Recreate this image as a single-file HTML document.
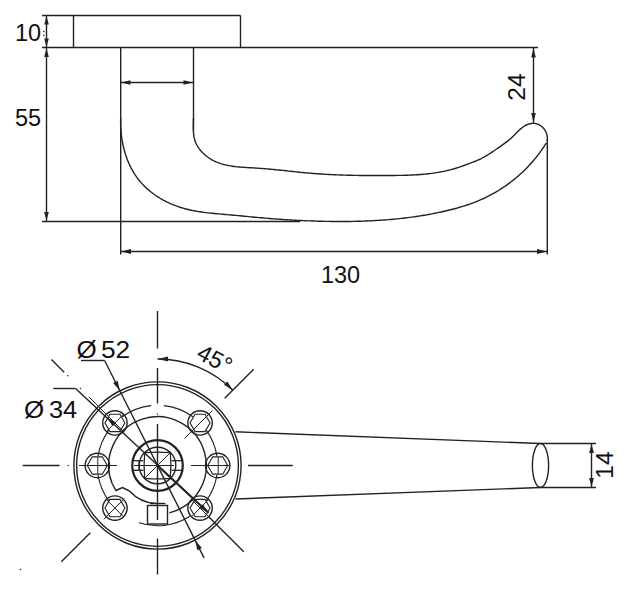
<!DOCTYPE html>
<html><head><meta charset="utf-8"><style>
html,body{margin:0;padding:0;background:#fff;overflow:hidden;}
svg{display:block;}
text{font-family:"Liberation Sans",sans-serif;fill:#111;stroke:none;}
</style></head><body>
<svg width="637" height="602" viewBox="0 0 637 602" stroke="#222222" fill="none">
<rect x="0" y="0" width="637" height="602" fill="#fff" stroke="none"/>
<line x1="42.00" y1="15.50" x2="240.50" y2="15.50" stroke-width="1.4"/>
<line x1="240.50" y1="15.50" x2="240.50" y2="47.50" stroke-width="1.4"/>
<line x1="73.50" y1="15.50" x2="73.50" y2="47.50" stroke-width="1.4"/>
<line x1="42.00" y1="47.50" x2="538.00" y2="47.50" stroke-width="1.4"/>
<line x1="46.50" y1="15.50" x2="46.50" y2="221.50" stroke-width="1.4"/>
<path d="M46.50,16.00 L48.80,24.50 L44.20,24.50 Z" fill="#222222" stroke="none"/>
<path d="M46.50,47.00 L44.20,38.50 L48.80,38.50 Z" fill="#222222" stroke="none"/>
<path d="M46.50,48.00 L48.80,57.00 L44.20,57.00 Z" fill="#222222" stroke="none"/>
<path d="M46.50,221.00 L44.20,212.00 L48.80,212.00 Z" fill="#222222" stroke="none"/>
<text x="15" y="40.5" font-size="23.5" text-anchor="start">10</text>
<circle cx="43.80" cy="31.50" r="0.8" fill="#222222" stroke="none"/>
<circle cx="43.80" cy="35.50" r="0.8" fill="#222222" stroke="none"/>
<text x="15" y="126" font-size="23.5" text-anchor="start">55</text>
<line x1="120.70" y1="47.50" x2="120.70" y2="254.50" stroke-width="1.4"/>
<line x1="193.50" y1="47.50" x2="193.50" y2="130.00" stroke-width="1.4"/>
<line x1="120.50" y1="82.50" x2="193.50" y2="82.50" stroke-width="1.4"/>
<path d="M121.00,82.50 L130.50,80.20 L130.50,84.80 Z" fill="#222222" stroke="none"/>
<path d="M193.00,82.50 L183.50,84.80 L183.50,80.20 Z" fill="#222222" stroke="none"/>
<path d="M120.70,118.01 L120.65,120.07 L120.63,122.15 L120.65,124.24 L120.71,126.35 L120.81,128.46 L120.96,130.59 L121.14,132.72 L121.37,134.85 L121.64,136.99 L121.95,139.12 L122.30,141.26 L122.70,143.38 L123.14,145.51 L123.63,147.62 L124.16,149.73 L124.73,151.82 L125.36,153.89 L126.02,155.95 L126.74,157.99 L127.50,160.01 L128.31,162.00 L129.16,163.97 L130.07,165.91 L131.02,167.83 L132.02,169.71 L133.08,171.55 L134.18,173.37 L135.33,175.14 L136.53,176.87 L137.78,178.56 L139.08,180.22 L140.43,181.83 L141.82,183.40 L143.25,184.93 L144.73,186.42 L146.24,187.87 L147.80,189.28 L149.39,190.65 L151.02,191.98 L152.69,193.26 L154.39,194.51 L156.12,195.71 L157.88,196.87 L159.67,198.00 L161.49,199.07 L163.33,200.11 L165.20,201.10 L167.10,202.06 L169.01,202.97 L170.95,203.84 L172.91,204.66 L174.88,205.44 L176.87,206.18 L178.88,206.88 L180.90,207.54 L182.93,208.15 L184.97,208.72 L187.03,209.25 L189.09,209.74 L191.17,210.20 L193.25,210.63 L195.34,211.02 L197.44,211.39 L199.55,211.73 L201.66,212.04 L203.78,212.33 L205.90,212.60 L208.03,212.86 L210.16,213.09 L212.30,213.32 L214.43,213.53 L216.57,213.73 L218.71,213.92 L220.85,214.10 L222.99,214.29 L225.13,214.47 L227.27,214.65 L229.40,214.83 L231.54,215.02 L233.66,215.21 L235.79,215.41 L237.92,215.60 L240.04,215.81 L242.16,216.01 L244.28,216.21 L246.40,216.42 L248.51,216.62 L250.63,216.83 L252.74,217.03 L254.85,217.23 L256.97,217.42 L259.08,217.61 L261.20,217.80 L263.31,217.99 L265.42,218.16 L267.54,218.34 L269.65,218.51 L271.76,218.68 L273.88,218.84 L275.99,219.00 L278.10,219.15 L280.22,219.30 L282.33,219.45 L284.45,219.59 L286.56,219.73 L288.68,219.86 L290.79,219.99 L292.91,220.11 L295.02,220.23 L297.14,220.34 L299.26,220.45 L301.37,220.55 L303.49,220.65 L305.61,220.74 L307.73,220.83 L309.85,220.91 L311.97,220.99 L314.09,221.06 L316.21,221.13 L318.33,221.19 L320.45,221.25 L322.57,221.30 L324.70,221.35 L326.82,221.39 L328.95,221.42 L331.07,221.45 L333.20,221.48 L335.33,221.49 L337.45,221.51 L339.58,221.51 L341.71,221.51 L343.84,221.50 L345.97,221.49 L348.10,221.47 L350.23,221.44 L352.36,221.41 L354.49,221.37 L356.62,221.32 L358.75,221.27 L360.89,221.21 L363.02,221.14 L365.15,221.06 L367.28,220.97 L369.41,220.88 L371.53,220.78 L373.66,220.67 L375.79,220.55 L377.92,220.42 L380.05,220.29 L382.17,220.14 L384.30,219.99 L386.42,219.83 L388.55,219.65 L390.67,219.47 L392.79,219.28 L394.91,219.08 L397.03,218.87 L399.15,218.65 L401.27,218.42 L403.38,218.18 L405.50,217.93 L407.61,217.67 L409.72,217.40 L411.83,217.12 L413.94,216.82 L416.04,216.52 L418.15,216.20 L420.25,215.88 L422.35,215.54 L424.45,215.19 L426.54,214.83 L428.64,214.46 L430.73,214.07 L432.82,213.68 L434.90,213.27 L436.99,212.84 L439.07,212.41 L441.15,211.96 L443.23,211.50 L445.30,211.03 L447.37,210.55 L449.44,210.04 L451.51,209.53 L453.56,209.00 L455.62,208.45 L457.67,207.88 L459.71,207.29 L461.74,206.69 L463.77,206.06 L465.79,205.41 L467.80,204.75 L469.81,204.05 L471.80,203.34 L473.79,202.60 L475.76,201.83 L477.73,201.04 L479.68,200.22 L481.62,199.38 L483.55,198.50 L485.47,197.60 L487.37,196.67 L489.26,195.71 L491.14,194.72 L493.00,193.70 L494.85,192.65 L496.68,191.58 L498.50,190.48 L500.31,189.35 L502.09,188.20 L503.86,187.02 L505.62,185.81 L507.35,184.58 L509.07,183.32 L510.78,182.04 L512.46,180.74 L514.12,179.41 L515.77,178.05 L517.40,176.67 L519.00,175.27 L520.59,173.85 L522.16,172.40 L523.70,170.93 L525.23,169.44 L526.73,167.93 L528.21,166.40 L529.67,164.84 L531.10,163.27 L532.51,161.67 L533.90,160.06 L535.27,158.42 L536.61,156.77 L537.93,155.09 L539.22,153.40 L540.48,151.69 L541.72,149.96 L542.94,148.21 L544.13,146.45 L545.29,144.67 L546.42,142.87" fill="none" stroke-width="1.4"/>
<path d="M193.42,118.00 L193.42,119.66 L193.40,121.35 L193.37,123.06 L193.33,124.79 L193.31,126.53 L193.31,128.27 L193.34,130.02 L193.41,131.77 L193.54,133.50 L193.73,135.22 L194.01,136.93 L194.37,138.61 L194.83,140.26 L195.41,141.88 L196.09,143.46 L196.86,145.01 L197.73,146.51 L198.69,147.97 L199.72,149.38 L200.83,150.75 L202.00,152.06 L203.24,153.31 L204.52,154.51 L205.85,155.65 L207.22,156.73 L208.63,157.74 L210.06,158.68 L211.52,159.56 L213.00,160.37 L214.50,161.12 L216.03,161.82 L217.58,162.46 L219.15,163.05 L220.73,163.59 L222.34,164.08 L223.96,164.53 L225.60,164.94 L227.26,165.31 L228.92,165.64 L230.61,165.93 L232.30,166.20 L234.00,166.44 L235.71,166.65 L237.43,166.83 L239.16,167.00 L240.90,167.15 L242.64,167.28 L244.38,167.40 L246.13,167.51 L247.88,167.61 L249.63,167.71 L251.38,167.81 L253.13,167.90 L254.88,168.00 L256.63,168.10 L258.37,168.21 L260.10,168.33 L261.84,168.46 L263.57,168.59 L265.29,168.73 L267.01,168.87 L268.73,169.03 L270.45,169.18 L272.16,169.34 L273.87,169.51 L275.58,169.68 L277.29,169.85 L278.99,170.02 L280.69,170.20 L282.39,170.38 L284.09,170.56 L285.79,170.74 L287.49,170.92 L289.18,171.10 L290.88,171.29 L292.57,171.47 L294.27,171.65 L295.96,171.83 L297.66,172.00 L299.35,172.18 L301.05,172.35 L302.74,172.52 L304.44,172.68 L306.14,172.84 L307.83,173.00 L309.53,173.15 L311.24,173.29 L312.94,173.43 L314.64,173.56 L316.35,173.69 L318.06,173.81 L319.77,173.93 L321.48,174.05 L323.19,174.15 L324.90,174.26 L326.62,174.35 L328.33,174.45 L330.05,174.54 L331.77,174.62 L333.49,174.70 L335.20,174.78 L336.93,174.85 L338.65,174.91 L340.37,174.98 L342.09,175.04 L343.82,175.09 L345.54,175.14 L347.26,175.19 L348.99,175.24 L350.72,175.28 L352.44,175.31 L354.17,175.35 L355.90,175.38 L357.62,175.41 L359.35,175.43 L361.08,175.46 L362.81,175.48 L364.54,175.49 L366.27,175.51 L368.00,175.52 L369.72,175.53 L371.45,175.53 L373.18,175.54 L374.91,175.54 L376.64,175.54 L378.37,175.54 L380.10,175.54 L381.82,175.53 L383.55,175.53 L385.28,175.52 L387.00,175.51 L388.73,175.50 L390.45,175.49 L392.18,175.47 L393.90,175.46 L395.63,175.44 L397.35,175.42 L399.07,175.39 L400.79,175.36 L402.51,175.33 L404.23,175.29 L405.95,175.24 L407.67,175.19 L409.38,175.13 L411.10,175.06 L412.81,174.98 L414.52,174.89 L416.23,174.80 L417.94,174.69 L419.65,174.57 L421.35,174.44 L423.06,174.30 L424.76,174.15 L426.46,173.98 L428.16,173.80 L429.86,173.60 L431.55,173.39 L433.24,173.16 L434.94,172.91 L436.62,172.65 L438.31,172.37 L440.00,172.08 L441.68,171.76 L443.36,171.42 L445.04,171.07 L446.71,170.69 L448.38,170.29 L450.05,169.88 L451.72,169.43 L453.39,168.97 L455.05,168.48 L456.71,167.97 L458.36,167.43 L460.02,166.87 L461.67,166.30 L463.31,165.72 L464.95,165.12 L466.58,164.52 L468.21,163.91 L469.82,163.31 L471.43,162.71 L473.03,162.11 L474.62,161.50 L476.20,160.87 L477.76,160.21 L479.32,159.51 L480.85,158.77 L482.37,157.99 L483.88,157.17 L485.37,156.32 L486.85,155.43 L488.32,154.52 L489.78,153.59 L491.23,152.64 L492.66,151.68 L494.09,150.71 L495.52,149.74 L496.93,148.77 L498.34,147.80 L499.74,146.84 L501.13,145.87 L502.52,144.89 L503.89,143.90 L505.25,142.90 L506.60,141.88 L507.94,140.83 L509.26,139.75 L510.56,138.64 L511.85,137.49 L513.12,136.30 L514.37,135.07 L515.61,133.81 L516.85,132.55 L518.10,131.29 L519.37,130.06 L520.67,128.88 L522.01,127.76 L523.39,126.73 L524.83,125.79 L526.34,124.99 L527.91,124.32 L529.51,123.80 L531.15,123.47 L532.80,123.33 L534.46,123.41 L536.10,123.69 L537.70,124.18 L539.24,124.87 L540.71,125.74 L542.07,126.79 L543.31,127.99 L544.41,129.35 L545.35,130.83 L546.13,132.42 L546.73,134.08 L547.14,135.81 L547.34,137.56 L547.32,139.32 L547.08,141.06" fill="none" stroke-width="1.4"/>
<line x1="42.00" y1="221.50" x2="300.00" y2="221.50" stroke-width="1.4"/>
<line x1="547.30" y1="140.00" x2="547.30" y2="254.50" stroke-width="1.4"/>
<line x1="120.70" y1="251.50" x2="547.30" y2="251.50" stroke-width="1.4"/>
<path d="M121.00,251.50 L131.00,249.10 L131.00,253.90 Z" fill="#222222" stroke="none"/>
<path d="M547.00,251.50 L537.00,253.90 L537.00,249.10 Z" fill="#222222" stroke="none"/>
<text x="340.5" y="282.5" font-size="23.5" text-anchor="middle">130</text>
<line x1="533.50" y1="47.50" x2="533.50" y2="123.00" stroke-width="1.4"/>
<path d="M533.50,48.00 L535.80,57.50 L531.20,57.50 Z" fill="#222222" stroke="none"/>
<path d="M533.50,122.50 L531.20,113.00 L535.80,113.00 Z" fill="#222222" stroke="none"/>
<text x="525" y="87" font-size="24.5" text-anchor="middle" transform="rotate(-90 525 87)">24</text>
<circle cx="157.50" cy="465.50" r="83.60" fill="none" stroke-width="1.4"/>
<circle cx="157.50" cy="465.50" r="80.90" fill="none" stroke-width="1.4"/>
<path d="M216.96,456.08 A60.2,60.2 0 0 0 206.20,430.12" fill="none" stroke-width="1.1"/>
<path d="M192.88,416.80 A60.2,60.2 0 0 0 163.79,405.63" fill="none" stroke-width="1.1"/>
<path d="M151.21,405.63 A60.2,60.2 0 0 0 122.12,416.80" fill="none" stroke-width="1.1"/>
<path d="M108.80,430.12 A60.2,60.2 0 0 0 98.04,456.08" fill="none" stroke-width="1.1"/>
<path d="M98.04,474.92 A60.2,60.2 0 0 0 108.80,500.88" fill="none" stroke-width="1.1"/>
<path d="M138.90,522.75 A60.2,60.2 0 0 0 190.29,515.99" fill="none" stroke-width="1.1"/>
<path d="M206.20,500.88 A60.2,60.2 0 0 0 216.96,474.92" fill="none" stroke-width="1.1"/>
<path d="M169.31,512.85 A48.8,48.8 0 1 0 112.25,483.78" fill="none" stroke-width="1.4"/>
<path d="M112.25,483.78 L116.00,490.50 L122.50,487.50 L129.50,491.00" fill="none" stroke-width="1.4"/>
<path d="M129.5,491 A38,38 0 0 0 156,503.5" fill="none" stroke-width="1.4"/>
<circle cx="217.70" cy="465.50" r="12.20" fill="none" stroke-width="1.4"/>
<path d="M227.70,465.50 L222.70,474.16 L212.70,474.16 L207.70,465.50 L212.70,456.84 L222.70,456.84 Z" fill="none" stroke-width="1.1"/>
<line x1="218.20" y1="457.30" x2="218.20" y2="473.70" stroke-width="1.0"/>
<circle cx="200.07" cy="422.93" r="12.20" fill="none" stroke-width="1.4"/>
<path d="M210.07,422.93 L205.07,431.59 L195.07,431.59 L190.07,422.93 L195.07,414.27 L205.07,414.27 Z" fill="none" stroke-width="1.1"/>
<line x1="184.37" y1="438.63" x2="211.24" y2="411.76" stroke-width="1.0"/>
<circle cx="114.93" cy="422.93" r="12.20" fill="none" stroke-width="1.4"/>
<path d="M124.93,422.93 L119.93,431.59 L109.93,431.59 L104.93,422.93 L109.93,414.27 L119.93,414.27 Z" fill="none" stroke-width="1.1"/>
<line x1="106.09" y1="414.09" x2="123.77" y2="431.77" stroke-width="1.0"/>
<line x1="123.77" y1="414.09" x2="106.09" y2="431.77" stroke-width="1.0"/>
<circle cx="97.30" cy="465.50" r="12.20" fill="none" stroke-width="1.4"/>
<path d="M107.30,465.50 L102.30,474.16 L92.30,474.16 L87.30,465.50 L92.30,456.84 L102.30,456.84 Z" fill="none" stroke-width="1.1"/>
<line x1="97.80" y1="457.30" x2="97.80" y2="473.70" stroke-width="1.0"/>
<circle cx="114.93" cy="508.07" r="12.20" fill="none" stroke-width="1.4"/>
<path d="M124.93,508.07 L119.93,516.73 L109.93,516.73 L104.93,508.07 L109.93,499.41 L119.93,499.41 Z" fill="none" stroke-width="1.1"/>
<line x1="106.09" y1="499.23" x2="123.77" y2="516.91" stroke-width="1.0"/>
<line x1="123.77" y1="499.23" x2="106.09" y2="516.91" stroke-width="1.0"/>
<circle cx="200.07" cy="508.07" r="12.20" fill="none" stroke-width="1.4"/>
<path d="M210.07,508.07 L205.07,516.73 L195.07,516.73 L190.07,508.07 L195.07,499.41 L205.07,499.41 Z" fill="none" stroke-width="1.1"/>
<line x1="191.23" y1="499.23" x2="208.91" y2="516.91" stroke-width="1.0"/>
<line x1="208.91" y1="499.23" x2="191.23" y2="516.91" stroke-width="1.0"/>
<circle cx="157.50" cy="465.50" r="25.30" fill="none" stroke-width="2.2"/>
<circle cx="157.50" cy="465.50" r="18.30" fill="none" stroke-width="1.4"/>
<path d="M144.7,452.7 Q157.5,451.5 170.3,452.7 Q171.5,465.5 170.3,478.3 Q157.5,479.5 144.7,478.3 Q143.5,465.5 144.7,452.7 Z" fill="none" stroke-width="1.2"/>
<line x1="144.70" y1="452.70" x2="170.30" y2="478.30" stroke-width="1.0"/>
<line x1="170.30" y1="452.70" x2="144.70" y2="478.30" stroke-width="1.0"/>
<line x1="132.50" y1="460.70" x2="143.50" y2="460.70" stroke-width="1.3"/>
<line x1="171.50" y1="460.70" x2="182.50" y2="460.70" stroke-width="1.3"/>
<line x1="132.50" y1="470.30" x2="143.50" y2="470.30" stroke-width="1.3"/>
<line x1="171.50" y1="470.30" x2="182.50" y2="470.30" stroke-width="1.3"/>
<line x1="139.00" y1="460.70" x2="139.00" y2="470.30" stroke-width="1.1"/>
<rect x="147.5" y="505.5" width="20" height="18.5" fill="none" stroke-width="1.4"/>
<line x1="150.00" y1="503.50" x2="165.50" y2="503.50" stroke-width="1.4"/>
<line x1="157.50" y1="311.00" x2="157.50" y2="348.50" stroke-width="1.4"/>
<line x1="157.50" y1="368.00" x2="157.50" y2="403.50" stroke-width="1.4"/>
<circle cx="157.50" cy="414.00" r="0.7" fill="#222222" stroke="none"/>
<line x1="157.50" y1="424.00" x2="157.50" y2="520.00" stroke-width="1.4"/>
<line x1="157.50" y1="538.50" x2="157.50" y2="574.50" stroke-width="1.4"/>
<line x1="22.80" y1="465.50" x2="59.60" y2="465.50" stroke-width="1.4"/>
<circle cx="68.20" cy="465.50" r="0.7" fill="#222222" stroke="none"/>
<line x1="248.00" y1="465.50" x2="292.80" y2="465.50" stroke-width="1.4"/>
<line x1="79.00" y1="465.50" x2="117.00" y2="465.50" stroke-width="1.2"/>
<line x1="134.00" y1="465.50" x2="174.00" y2="465.50" stroke-width="1.2"/>
<line x1="191.00" y1="465.50" x2="229.00" y2="465.50" stroke-width="1.2"/>
<line x1="51.43" y1="359.43" x2="64.16" y2="372.16" stroke-width="1.4"/>
<circle cx="67.70" cy="375.70" r="0.7" fill="#222222" stroke="none"/>
<circle cx="80.43" cy="388.43" r="0.7" fill="#222222" stroke="none"/>
<line x1="88.91" y1="396.91" x2="124.27" y2="432.27" stroke-width="1.0"/>
<line x1="90.32" y1="532.68" x2="61.33" y2="561.67" stroke-width="1.4"/>
<line x1="224.68" y1="398.32" x2="253.67" y2="369.33" stroke-width="1.4"/>
<line x1="208.41" y1="516.41" x2="243.77" y2="551.77" stroke-width="1.4"/>
<line x1="212.65" y1="410.35" x2="190.73" y2="432.27" stroke-width="1.0"/>
<line x1="103.76" y1="519.24" x2="124.27" y2="498.73" stroke-width="1.0"/>
<line x1="53.20" y1="388.50" x2="75.60" y2="388.50" stroke-width="1.4"/>
<line x1="75.60" y1="388.50" x2="208.50" y2="512.80" stroke-width="1.4"/>
<line x1="157.50" y1="465.50" x2="208.50" y2="512.80" stroke-width="2.0"/>
<path d="M107.00,417.50 L116.01,422.50 L112.60,426.16 Z" fill="#222222" stroke="none"/>
<path d="M208.50,512.80 L199.49,507.80 L202.90,504.14 Z" fill="#222222" stroke="none"/>
<line x1="81.00" y1="360.50" x2="104.60" y2="360.50" stroke-width="1.4"/>
<line x1="104.60" y1="360.50" x2="204.04" y2="557.87" stroke-width="1.4"/>
<path d="M119.89,390.84 L113.15,383.03 L117.62,380.78 Z" fill="#222222" stroke="none"/>
<path d="M195.11,540.16 L201.85,547.97 L197.38,550.22 Z" fill="#222222" stroke="none"/>
<text x="76.5" y="358" font-size="23" text-anchor="start" transform="translate(76.5 358) scale(1.13 1) translate(-76.5 -358)">Ø</text>
<text x="101" y="358" font-size="23.5" text-anchor="start" transform="translate(101 358) scale(1.12 1) translate(-101 -358)">52</text>
<text x="24" y="418" font-size="23" text-anchor="start" transform="translate(24 418) scale(1.13 1) translate(-24 -418)">Ø</text>
<text x="49" y="418" font-size="23.5" text-anchor="start" transform="translate(49 418) scale(1.08 1) translate(-49 -418)">34</text>
<path d="M232.81,390.19 A106.5,106.5 0 0 0 157.50,359.00" fill="none" stroke-width="1.4"/>
<path d="M158.00,359.00 L168.00,356.60 L168.00,361.40 Z" fill="#222222" stroke="none"/>
<path d="M232.81,390.19 L224.04,384.82 L227.43,381.43 Z" fill="#222222" stroke="none"/>
<text x="211" y="366" font-size="23.5" text-anchor="middle" transform="rotate(28 211 366)">45°</text>
<line x1="235.50" y1="431.80" x2="540.50" y2="443.50" stroke-width="1.4"/>
<line x1="235.50" y1="499.00" x2="540.50" y2="487.50" stroke-width="1.4"/>
<ellipse cx="540.5" cy="465.5" rx="8.1" ry="22" fill="none" stroke-width="1.4"/>
<line x1="540.50" y1="443.50" x2="596.00" y2="443.50" stroke-width="1.4"/>
<line x1="540.50" y1="487.50" x2="596.00" y2="487.50" stroke-width="1.4"/>
<line x1="591.50" y1="443.50" x2="591.50" y2="487.50" stroke-width="1.4"/>
<path d="M591.50,444.00 L593.90,453.00 L589.10,453.00 Z" fill="#222222" stroke="none"/>
<path d="M591.50,487.00 L589.10,478.00 L593.90,478.00 Z" fill="#222222" stroke="none"/>
<text x="612.5" y="465" font-size="24.5" text-anchor="middle" transform="rotate(-90 612.5 465)">14</text>
<circle cx="20.50" cy="569.50" r="0.8" fill="#222222" stroke="none"/>
</svg>
</body></html>
